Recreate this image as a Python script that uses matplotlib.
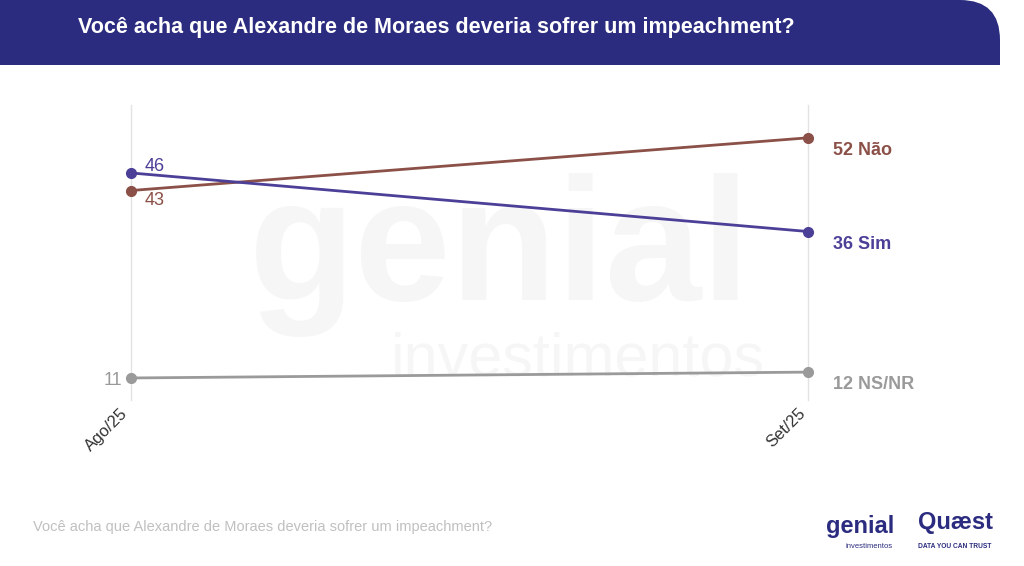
import matplotlib.pyplot as plt
from matplotlib.patches import FancyBboxPatch

plt.rcParams['font.family'] = ['Liberation Sans', 'DejaVu Sans']

periods = ["Ago/25", "Set/25"]
nao = [43, 52]
sim = [46, 36]
nsnr = [11, 12]
title = "Você acha que Alexandre de Moraes deveria sofrer um impeachment?"

W, H = 1024, 566
fig = plt.figure(figsize=(W / 100, H / 100), dpi=100)
fig.patch.set_facecolor("white")

# watermark
fig.text(500 / W, 1 - 255 / H, "genial", fontsize=125, color="#f6f6f6", fontweight="bold",
         ha="center", va="center", zorder=-5)
fig.text(578 / W, 1 - 360 / H, "investimentos", fontsize=44, color="#f6f6f6",
         ha="center", va="center", zorder=-5)

# header band
hdr = fig.add_axes([0, 1 - 65 / H, 1, 65 / H])
hdr.set_xlim(0, W); hdr.set_ylim(0, 65); hdr.axis("off")
hdr.add_patch(FancyBboxPatch((-60, -40), 1060, 105, boxstyle="round,pad=0,rounding_size=40",
                             fc="#2b2c7f", ec="none"))
hdr.text(78, 37, title, color="white", fontsize=15.5, fontweight="bold", va="center")

# main plot: x=131..808 px, y=105..400 px
ax = fig.add_axes([131 / W, 1 - 400 / H, (808 - 131) / W, 295 / H])
ax.patch.set_alpha(0)
ax.set_xlim(0, 1)
ax.set_ylim(7.24, 57.6)
for s in ax.spines.values():
    s.set_visible(False)
ax.set_yticks([])
ax.set_xticks([0, 1])
ax.set_xticklabels(periods, rotation=45, ha="right", va="top", fontsize=12, color="#333333")
ax.tick_params(axis="x", length=0, pad=4)
for xv in [0, 1]:
    ax.axvline(xv, color="#e3e3e3", lw=1, zorder=0, clip_on=False)

series = [(nao, "#8b5047", "Não"), (sim, "#4b3f98", "Sim"), (nsnr, "#9a9a9a", "NS/NR")]
for vals, c, name in series:
    ax.plot([0, 1], vals, color=c, lw=2, marker="o", ms=7, clip_on=False, zorder=3)
    ax.annotate(f"{vals[1]} {name}", (1, vals[1]), xytext=(18, -9), textcoords="offset points",
                color=c, fontsize=13, fontweight="bold", va="center")

ax.annotate("46", (0, 46), xytext=(10, 5), textcoords="offset points", color="#4b3f98", fontsize=13, va="center")
ax.annotate("43", (0, 43), xytext=(10, -7), textcoords="offset points", color="#8b5047", fontsize=13, va="center")
ax.annotate("11", (0, 11), xytext=(-6, -2), textcoords="offset points", color="#9a9a9a", fontsize=13,
            va="center", ha="right")

# footer
fig.text(33 / W, 1 - 527 / H, title, fontsize=10.5, color="#c0c0c0", va="center")
fig.text(826 / W, 1 - 527 / H, "genial", fontsize=17, color="#2b2c7f", fontweight="bold", va="center")
fig.text(846 / W, 1 - 546 / H, "investimentos", fontsize=5.5, color="#2b2c7f", va="center")
fig.text(918 / W, 1 - 523 / H, "Quæst", fontsize=17, color="#2b2c7f", fontweight="bold", va="center")
fig.text(918 / W, 1 - 546 / H, "DATA YOU CAN TRUST", fontsize=4.8, color="#2b2c7f", fontweight="bold", va="center")

fig.savefig("out.png", dpi=100)
